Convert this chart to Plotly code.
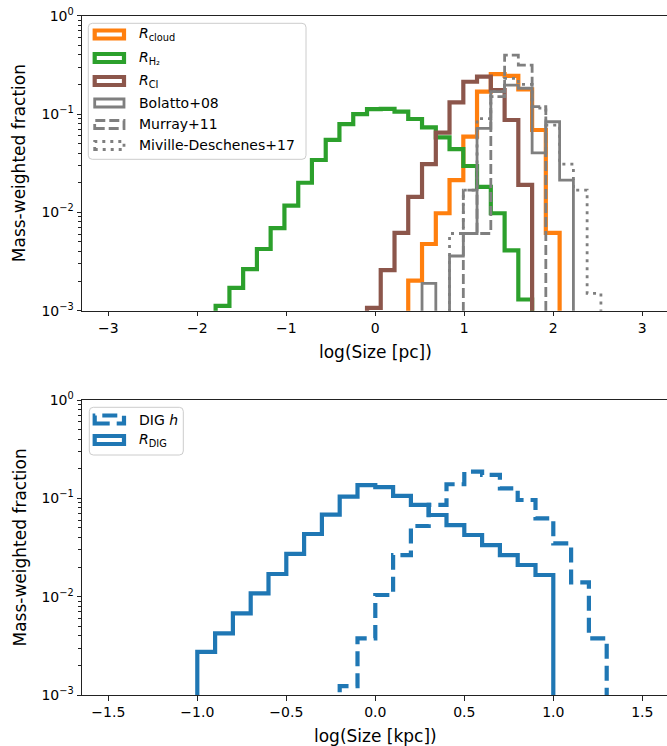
import plotly.graph_objects as go

W, H = 667, 746
FONT = "DejaVu Sans"
FLOOR = 1e-7

# ---------------- data: top panel (log Size [pc]) ----------------
TOP_EDGES = [-1.794, -1.639, -1.485, -1.330, -1.176, -1.021, -0.866, -0.712,
             -0.557, -0.403, -0.248, -0.093, 0.061, 0.216, 0.370, 0.525,
             0.680, 0.834, 0.989, 1.143, 1.298, 1.453, 1.607, 1.762,
             1.916, 2.071, 2.226, 2.380, 2.535]

R_CLOUD = [0, 0, 0, 0, 0, 0, 0, 0, 0, 0, 0, 0, 0, 0,
           2.02e-3, 4.77e-3, 9.8e-3, 0.0213, 0.0588, 0.169, 0.254, 0.244,
           0.178, 0.0688, 6.2e-3, 0, 0, 0]
R_H2 = [1.12e-3, 1.71e-3, 2.65e-3, 4.24e-3, 6.9e-3, 0.0117, 0.0200, 0.0341,
        0.0545, 0.079, 0.100, 0.112, 0.113, 0.106, 0.089, 0.073, 0.058,
        0.044, 0.0296, 0.0182, 0.0098, 0.0041, 0.0013, 0, 0, 0, 0, 0]
R_CI = [0, 0, 0, 0, 0, 0, 0, 0, 0, 0, 0,
        1.07e-3, 2.59e-3, 6.2e-3, 0.0144, 0.031, 0.0646, 0.1316, 0.213,
        0.240, 0.175, 0.087, 0.019, 0, 0, 0, 0, 0]
BOLATTO = [0, 0, 0, 0, 0, 0, 0, 0, 0, 0, 0, 0, 0, 0, 0,
           1.9e-3, 0, 3.6e-3, 6.1e-3, 0.0716, 0.169, 0.197, 0.183, 0.0402,
           0.0835, 0.0213, 0, 0]
MURRAY = [0, 0, 0, 0, 0, 0, 0, 0, 0, 0, 0, 0, 0, 0, 0, 0, 0, 0,
          0.0168, 0.0061, 0.15, 0.398, 0.315, 0.119, 0, 0, 0, 0]
MIVILLE = [0, 0, 0, 0, 0, 0, 0, 0, 0, 0, 0, 0, 0, 0, 0, 0, 0,
           6.1e-3, 0.0168, 0.090, 0.17, 0.23, 0.20, 0.115, 0.077, 0.031,
           0.0168, 1.5e-3]

# ---------------- data: bottom panel (log Size [kpc]) ----------------
BOT_EDGES = [-1.0, -0.9, -0.8, -0.7, -0.6, -0.5, -0.4, -0.3, -0.2, -0.1, 0.0,
             0.1, 0.2, 0.3, 0.4, 0.5, 0.6, 0.7, 0.8, 0.9, 1.0, 1.1, 1.2, 1.3]
DIG_H = [0, 0, 0, 0, 0, 0, 0, 0,
         1.23e-3, 3.77e-3, 0.0104, 0.0265, 0.0523, 0.0856, 0.139, 0.187,
         0.173, 0.1265, 0.0962, 0.0626, 0.0349, 0.0140, 3.77e-3]
R_DIG = [2.75e-3, 4.24e-3, 6.77e-3, 0.0108, 0.0170, 0.0272, 0.0434, 0.0682,
         0.104, 0.136, 0.130, 0.106, 0.0856, 0.0677, 0.0535, 0.0424, 0.0335,
         0.0265, 0.0210, 0.0166, 0, 0, 0]

TOP_XTICKS = [-3, -2, -1, 0, 1, 2, 3]
BOT_XTICKS = [-1.5, -1.0, -0.5, 0.0, 0.5, 1.0, 1.5]
YTICKS = [1e-3, 1e-2, 1e-1, 1]
YTICKTEXT = ["10<sup>\u22123</sup>", "10<sup>\u22122</sup>",
             "10<sup>\u22121</sup>", "10<sup>0</sup>"]
YMINOR = [m * 10 ** e for e in (-3, -2, -1) for m in range(2, 10)]

ORANGE, GREEN, BROWN, GRAY, BLUE = "#ff7f0e", "#2ca02c", "#8c564b", "#7f7f7f", "#1f77b4"
DASH_G = "10px,4px"
DOT_G = "3px,5px"
DASH_B = "15px,7px"


def step_xy(edges, vals):
    nz = [i for i, v in enumerate(vals) if v > 0]
    i0, i1 = nz[0], nz[-1]
    xs, ys = [edges[i0]], [FLOOR]
    for i in range(i0, i1 + 1):
        xs.append(edges[i])
        ys.append(vals[i] if vals[i] > 0 else FLOOR)
    xs.append(edges[i1 + 1])
    ys.append(FLOOR)
    return xs, ys


fig = go.Figure()

top_series = [
    (R_CLOUD, ORANGE, 4.2, "solid"),
    (R_H2, GREEN, 4.2, "solid"),
    (R_CI, BROWN, 4.2, "solid"),
    (BOLATTO, GRAY, 2.8, "solid"),
    (MURRAY, GRAY, 2.8, DASH_G),
    (MIVILLE, GRAY, 2.8, DOT_G),
]
for vals, col, lw, dash in top_series:
    xs, ys = step_xy(TOP_EDGES, vals)
    fig.add_trace(go.Scatter(x=xs, y=ys, mode="lines", line_shape="hv",
                             line=dict(color=col, width=lw, dash=dash),
                             xaxis="x", yaxis="y", showlegend=False,
                             hoverinfo="skip"))

bot_series = [
    (DIG_H, BLUE, 4.2, DASH_B),
    (R_DIG, BLUE, 4.2, "solid"),
]
for vals, col, lw, dash in bot_series:
    xs, ys = step_xy(BOT_EDGES, vals)
    fig.add_trace(go.Scatter(x=xs, y=ys, mode="lines", line_shape="hv",
                             line=dict(color=col, width=lw, dash=dash),
                             xaxis="x2", yaxis="y2", showlegend=False,
                             hoverinfo="skip"))


def px(x):
    return x / W


def py(y):
    return 1 - y / H


L_PX, R_PX = 82.0, 667.0
TOP_T, TOP_B = 15.7, 310.7
BOT_T, BOT_B = 400.0, 695.0
X0_PX = 375.3
TOP_SCALE, BOT_SCALE = 89.0, 178.0

axis_common = dict(showgrid=False, zeroline=False, showline=True,
                   linecolor="#222", linewidth=1, ticks="outside",
                   ticklen=4.5, tickwidth=0.9, tickcolor="#222", automargin=False,
                   tickfont=dict(family=FONT, size=14, color="black"))

xr_top = [(L_PX - X0_PX) / TOP_SCALE, (R_PX - X0_PX) / TOP_SCALE]
xr_bot = [(L_PX - X0_PX) / BOT_SCALE, (R_PX - X0_PX) / BOT_SCALE]

yaxis_common = dict(axis_common, type="log", range=[-3, 0], tickmode="array",
                    tickvals=YTICKS, ticktext=YTICKTEXT, mirror=False,
                    minor=dict(tickmode="array", tickvals=YMINOR, ticks="outside",
                               ticklen=2.8, tickwidth=0.7, tickcolor="#222",
                               showgrid=False))

fig.update_layout(
    width=W, height=H,
    margin=dict(l=0, r=0, t=0, b=0, autoexpand=False),
    paper_bgcolor="white", plot_bgcolor="white",
    font=dict(family=FONT, color="black"),
    xaxis=dict(axis_common, domain=[px(L_PX), 1.0], anchor="y", range=xr_top,
               tickmode="array", tickvals=TOP_XTICKS, mirror=True),
    yaxis=dict(yaxis_common, domain=[py(TOP_B), py(TOP_T)], anchor="x"),
    xaxis2=dict(axis_common, domain=[px(L_PX), 1.0], anchor="y2", range=xr_bot,
                tickmode="array", tickvals=BOT_XTICKS, tickformat=".1f",
                mirror=True),
    yaxis2=dict(yaxis_common, domain=[py(BOT_B), py(BOT_T)], anchor="x2"),
)

annotations = []
shapes = []

# axis titles
for ytxt in ((TOP_T + TOP_B) / 2, (BOT_T + BOT_B) / 2):
    annotations.append(dict(text="Mass-weighted fraction", x=px(19), y=py(ytxt),
                            xref="paper", yref="paper", showarrow=False,
                            textangle=-90, xanchor="center", yanchor="middle",
                            font=dict(family=FONT, size=17, color="black")))
annotations.append(dict(text="log(Size [pc])", x=px(375.5), y=py(352),
                        xref="paper", yref="paper", showarrow=False,
                        xanchor="center", yanchor="middle",
                        font=dict(family=FONT, size=17, color="black")))
annotations.append(dict(text="log(Size [kpc])", x=px(375.5), y=py(736),
                        xref="paper", yref="paper", showarrow=False,
                        xanchor="center", yanchor="middle",
                        font=dict(family=FONT, size=17, color="black")))


def rounded_box(x0, y0, x1, y1, r=4):
    rx, ry = r / W, r / H
    X0, X1 = px(x0), px(x1)
    Y0, Y1 = py(y0), py(y1)  # Y0 top (larger), Y1 bottom
    p = (f"M {X0 + rx},{Y0} L {X1 - rx},{Y0} Q {X1},{Y0} {X1},{Y0 - ry} "
         f"L {X1},{Y1 + ry} Q {X1},{Y1} {X1 - rx},{Y1} "
         f"L {X0 + rx},{Y1} Q {X0},{Y1} {X0},{Y1 + ry} "
         f"L {X0},{Y0 - ry} Q {X0},{Y0} {X0 + rx},{Y0} Z")
    return dict(type="path", path=p, xref="paper", yref="paper",
                line=dict(color="#cccccc", width=1),
                fillcolor="rgba(255,255,255,0.8)", layer="above")


def legend(box, rows):
    shapes.append(rounded_box(*box))
    for yc, col, lw, dash, label in rows:
        shapes.append(dict(type="rect", xref="paper", yref="paper",
                           x0=px(94.7), x1=px(124.0), y0=py(yc + 4), y1=py(yc - 4),
                           line=dict(color=col, width=lw, dash=dash),
                           fillcolor="rgba(0,0,0,0)", layer="above"))
        annotations.append(dict(text=label, x=px(136.5), y=py(yc), xref="paper",
                                yref="paper", showarrow=False, xanchor="left",
                                yanchor="middle",
                                font=dict(family=FONT, size=14, color="black")))


legend((88.3, 23.3, 306.0, 159.3), [
    (34.5, ORANGE, 4.2, "solid", "<i>R</i><sub>cloud</sub>"),
    (58.0, GREEN, 4.2, "solid", "<i>R</i><sub>H\u2082</sub>"),
    (81.0, BROWN, 4.2, "solid", "<i>R</i><sub>CI</sub>"),
    (103.0, GRAY, 2.8, "solid", "Bolatto+08"),
    (124.5, GRAY, 2.8, DASH_G, "Murray+11"),
    (145.5, GRAY, 2.8, DOT_G, "Miville-Deschenes+17"),
])
legend((89.3, 407.3, 183.3, 455.0), [
    (419.5, BLUE, 4.2, DASH_B, "DIG <i>h</i>"),
    (440.0, BLUE, 4.2, "solid", "<i>R</i><sub>DIG</sub>"),
])

fig.update_layout(annotations=annotations, shapes=shapes)
fig.write_html("out.html",
               config={"displayModeBar": False},
               post_script="document.body.style.margin='0';"
                           "document.body.style.overflow='hidden';")
